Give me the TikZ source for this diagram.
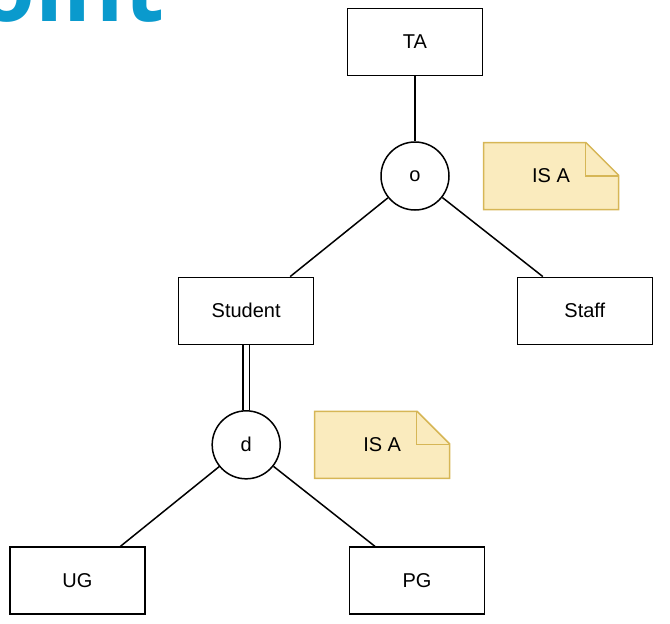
\documentclass[tikz,border=0pt]{standalone}
\usepackage{fontspec}
\setmainfont{Liberation Sans}
\newfontfamily\titlefont{Open Sans}
\usetikzlibrary{positioning,shapes.misc}
\definecolor{notefill}{HTML}{FAEBBE}
\definecolor{noteline}{HTML}{D6B656}
\definecolor{titleblue}{HTML}{0A9ACD}

\begin{document}
\begin{tikzpicture}[x=1pt,y=-1pt,line width=1.5pt,
  entity/.style={draw,minimum width=135pt,minimum height=67pt,font=\fontsize{20}{24}\selectfont},
  spec/.style={draw,circle,minimum size=68pt,inner sep=0pt,font=\fontsize{20}{24}\selectfont},
  isanote/.style={chamfered rectangle,chamfered rectangle corners=north east,
    chamfered rectangle xsep=34pt,chamfered rectangle ysep=34pt,
    draw=noteline,fill=notefill,minimum width=135pt,minimum height=67pt,
    font=\fontsize{20}{24}\selectfont}]
  \useasboundingbox (0,0) rectangle (670,624);
  \clip (0,0) rectangle (670,624);
  % cut-off slide title
  \node[anchor=base east,inner sep=0pt,text=titleblue,font=\titlefont\bfseries\fontsize{92}{92}\selectfont] (title) at (165,21) {oint};
  % entities
  \node[entity] (ta) at (415,42) {TA};
  \node[spec, below=65pt of ta] (o) {o};
  \node[isanote, right=33pt of o] (note1) {IS A};
  \node[entity, below left=76pt and 76pt of o] (stud) {Student};
  \node[entity, below right=76pt and 77pt of o] (staff) {Staff};
  \node[spec, below=65pt of stud] (d) {d};
  \node[isanote, right=33pt of d] (note2) {IS A};
  \node[entity, below left=77pt and 76pt of d] (ug) {UG};
  \node[entity, below right=77pt and 78pt of d] (pg) {PG};
  % folded corners
  \foreach \n in {note1,note2}
    \draw[noteline] ([xshift=-34pt]\n.east |- \n.north) -- ([xshift=-34pt,yshift=-34pt]\n.east |- \n.north) -- ([yshift=-34pt]\n.east |- \n.north);
  % connectors
  \draw (ta) -- (o);
  \draw (o) -- ([xshift=44pt]stud.north);
  \draw (o) -- ([xshift=-42pt]staff.north);
  \draw[double,double distance=5pt] (stud) -- (d);
  \draw (d) -- ([xshift=43pt]ug.north);
  \draw (d) -- ([xshift=-42pt]pg.north);
\end{tikzpicture}
\end{document}
